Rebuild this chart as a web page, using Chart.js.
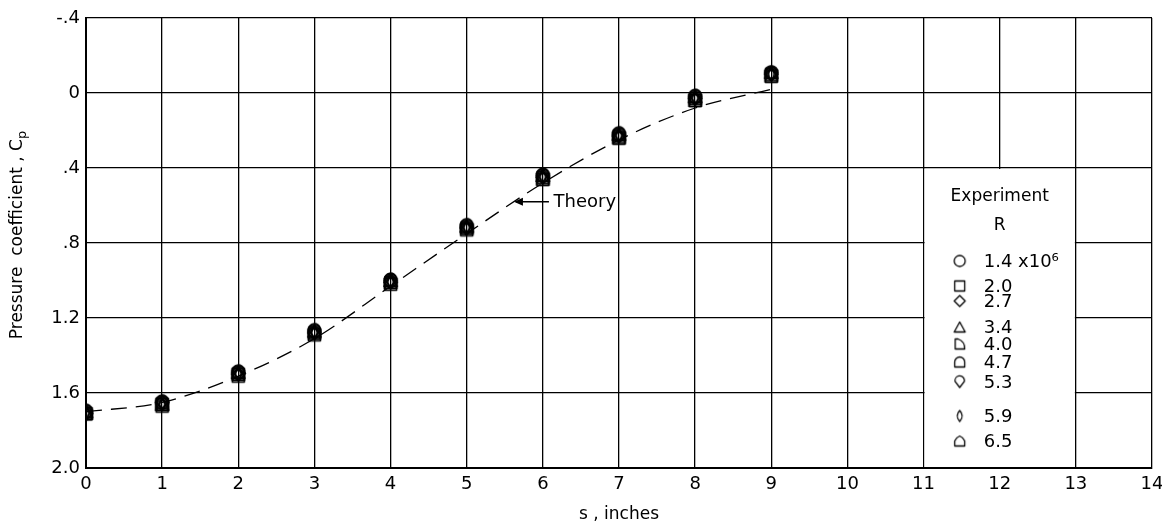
<!DOCTYPE html>
<html><head><meta charset="utf-8">
<script src="https://cdn.jsdelivr.net/npm/chart.js@4.4.1/dist/chart.umd.min.js"></script>
<style>html,body{margin:0;padding:0;background:#fff}#wrap{width:1162px;height:525px}</style>
</head><body><div id="wrap"><canvas id="c" width="1162" height="525"></canvas></div>
<script>
// ---- data ----
const sInches = [0,1,2,3,4,5,6,7,8,9];
const xTickLabels = ['0','1','2','3','4','5','6','7','8','9','10','11','12','13','14'];
const yTickValues = [-0.4,0,0.4,0.8,1.2,1.6,2.0];
const yTickLabels = ['-.4','0','.4','.8','1.2','1.6','2.0'];
const rLabels = ['1.4 x10\u2076','2.0','2.7','3.4','4.0','4.7','5.3','5.9','6.5'];
const cpR14 = [1.70,1.65,1.49,1.27,1.00,0.71,0.44,0.22,0.02,-0.11];
const cpR20 = [1.71,1.66,1.50,1.29,1.02,0.73,0.46,0.24,0.04,-0.09];
const cpR27 = [1.71,1.65,1.50,1.28,1.01,0.72,0.45,0.23,0.03,-0.10];
const cpR34 = [1.70,1.66,1.49,1.27,1.00,0.71,0.44,0.22,0.02,-0.11];
const cpR40 = [1.71,1.66,1.50,1.28,1.01,0.72,0.45,0.23,0.03,-0.10];
const cpR47 = [1.71,1.67,1.51,1.28,1.01,0.72,0.46,0.24,0.04,-0.09];
const cpR53 = [1.70,1.65,1.49,1.27,1.00,0.71,0.44,0.22,0.02,-0.10];
const cpR59 = [1.71,1.66,1.50,1.28,1.01,0.72,0.45,0.23,0.03,-0.10];
const cpR65 = [1.70,1.65,1.49,1.27,1.00,0.71,0.44,0.22,0.02,-0.11];
const theoryS  = [0,1,2,3,4,5,6,7,8,9];
const theoryCp = [1.70,1.65,1.51,1.31,1.03,0.75,0.48,0.25,0.08,-0.02];

const seriesCp = [cpR14,cpR20,cpR27,cpR34,cpR40,cpR47,cpR53,cpR59,cpR65];
const shapes = ['circle','square','diamond','triangle','dquarter','dome','roundDiamond','lens','house'];

const F = "'DejaVu Sans', sans-serif";

function makeMarker(shape, size, lw) {
  const pad = Math.ceil(lw) + 1;
  const c = document.createElement('canvas');
  c.width = size + 2*pad; c.height = size + 2*pad;
  const g = c.getContext('2d');
  g.translate(pad, pad);
  g.strokeStyle = '#000'; g.lineWidth = lw; g.lineJoin = 'round';
  const s = size, h = s/2;
  g.beginPath();
  switch (shape) {
    case 'circle': g.arc(h,h,h,0,Math.PI*2); break;
    case 'square': g.rect(0.5,0.5,s-1,s-1); break;
    case 'diamond': g.moveTo(h,0); g.lineTo(s,h); g.lineTo(h,s); g.lineTo(0,h); g.closePath(); break;
    case 'triangle': g.moveTo(h,0.5); g.lineTo(s,s-0.5); g.lineTo(0,s-0.5); g.closePath(); break;
    case 'dquarter': g.moveTo(1,0.5); g.lineTo(h*0.7,0.5); g.quadraticCurveTo(s,h*0.6,s-0.5,s-0.5); g.lineTo(1,s-0.5); g.closePath(); break;
    case 'dome': g.moveTo(0.5,s-0.5); g.lineTo(0.5,h); g.arc(h,h,h-0.5,Math.PI,0); g.lineTo(s-0.5,s-0.5); g.closePath(); break;
    case 'roundDiamond': g.moveTo(h,s); g.lineTo(0.8,h*0.9); g.arc(h,h*0.75,h-0.8,Math.PI*0.95,Math.PI*0.05); g.lineTo(h,s); g.closePath(); break;
    case 'lens': g.moveTo(h,0); g.quadraticCurveTo(s*0.95,h,h,s); g.quadraticCurveTo(s*0.05,h,h,0); g.closePath(); break;
    case 'house': g.moveTo(0.5,s-0.5); g.lineTo(0.5,h); g.quadraticCurveTo(h*0.4,h*0.3,h,0.5); g.quadraticCurveTo(s-h*0.4,h*0.3,s-0.5,h); g.lineTo(s-0.5,s-0.5); g.closePath(); break;
  }
  g.stroke();
  return c;
}

const plotMarkers = shapes.map(sh => makeMarker(sh, 13, 1.6));
const legendMarkers = shapes.map(sh => makeMarker(sh, 11, 1.3));

const datasets = seriesCp.map((arr, i) => ({
  label: rLabels[i],
  data: sInches.map((x, j) => ({x: x, y: arr[j]})),
  showLine: false,
  pointStyle: plotMarkers[i],
  pointRadius: 7,
  borderColor: '#000',
  backgroundColor: 'rgba(0,0,0,0)'
}));
datasets.push({
  label: 'Theory',
  data: theoryS.map((x, j) => ({x: x, y: theoryCp[j]})),
  showLine: true,
  borderColor: '#000',
  borderWidth: 1.3,
  borderDash: [16, 9],
  pointRadius: 0,
  cubicInterpolationMode: 'monotone',
  fill: false
});

const decor = {
  id: 'decor',
  beforeDatasetsDraw(chart) {
    const {ctx, scales:{x, y}} = chart;
    const l = x.getPixelForValue(11), r = x.getPixelForValue(13);
    const t = y.getPixelForValue(0.4), b = y.getPixelForValue(2.0);
    ctx.save();
    ctx.fillStyle = '#fff';
    ctx.fillRect(l + 1, t + 1, r - l - 2, b - t - 2);
    ctx.restore();
  },
  afterDraw(chart) {
    const {ctx, scales:{x, y}} = chart;
    ctx.save();
    ctx.fillStyle = '#000'; ctx.strokeStyle = '#000';
    ctx.translate(18, (chart.chartArea.top + chart.chartArea.bottom) / 2 - 8);
    ctx.rotate(-Math.PI / 2);
    ctx.font = '17px ' + F;
    ctx.textBaseline = 'middle';
    const main = 'Pressure  coefficient , C';
    const w1 = ctx.measureText(main).width;
    ctx.font = '13px ' + F;
    const w2 = ctx.measureText('p').width;
    const x0 = -(w1 + w2) / 2;
    ctx.font = '17px ' + F;
    ctx.textAlign = 'left';
    ctx.fillText(main, x0, 0);
    ctx.font = '13px ' + F;
    ctx.fillText('p', x0 + w1, 5);
    ctx.restore();

    // Theory annotation
    ctx.save();
    ctx.strokeStyle = '#000'; ctx.fillStyle = '#000'; ctx.lineWidth = 1.3;
    const tipX = x.getPixelForValue(5.62), tailX = x.getPixelForValue(6.08), ay = y.getPixelForValue(0.58);
    ctx.beginPath(); ctx.moveTo(tailX, ay); ctx.lineTo(tipX + 2, ay); ctx.stroke();
    ctx.beginPath(); ctx.moveTo(tipX, ay); ctx.lineTo(tipX + 9, ay - 4); ctx.lineTo(tipX + 9, ay + 4); ctx.closePath(); ctx.fill();
    ctx.font = '18px ' + F; ctx.textBaseline = 'middle'; ctx.textAlign = 'left';
    ctx.fillText('Theory', x.getPixelForValue(6.14), ay + 1);
    ctx.restore();

    // legend
    ctx.save();
    ctx.fillStyle = '#000';
    const cx = x.getPixelForValue(12);
    const top = y.getPixelForValue(0.4);
    ctx.textBaseline = 'middle';
    ctx.textAlign = 'center';
    ctx.font = '17px ' + F;
    ctx.fillText('Experiment', cx, top + 29);
    ctx.fillText('R', cx, top + 58);
    const rowOff = [93, 118, 133, 159, 176, 194, 214, 248, 273];
    ctx.font = '18px ' + F;
    ctx.textAlign = 'left';
    rowOff.forEach((off, i) => {
      const m = legendMarkers[i];
      ctx.drawImage(m, cx - 40 - m.width / 2, top + off - m.height / 2);
      ctx.fillText(rLabels[i], cx - 16, top + off + 1);
    });
    ctx.restore();
  }
};

new Chart(document.getElementById('c'), {
  type: 'scatter',
  data: { datasets },
  options: {
    responsive: false,
    animation: false,
    layout: { padding: { left: 0, right: 0, top: 18, bottom: 0 } },
    plugins: { legend: { display: false }, tooltip: { enabled: false } },
    scales: {
      x: {
        type: 'linear', min: 0, max: 14,
        ticks: { stepSize: 1, color: '#000', font: { family: F, size: 18 }, padding: 6, maxRotation: 0,
                 callback: (v, i) => xTickLabels[i] },
        grid: { color: '#000', lineWidth: 1.3, drawTicks: false },
        border: { color: '#000', width: 2 },
        title: { display: true, text: 's , inches', color: '#000', font: { family: F, size: 17 }, padding: { top: 3, bottom: 0 } },
        afterFit: (s) => { s.height = 57; s.paddingRight = 10; s.paddingLeft = 0; }
      },
      y: {
        type: 'linear', reverse: true, min: -0.4, max: 2.0,
        ticks: { stepSize: 0.4, color: '#000', font: { family: F, size: 18 }, padding: 6,
                 callback: (v) => { const k = yTickValues.findIndex(t => Math.abs(t - v) < 1e-6); return k >= 0 ? yTickLabels[k] : ''; } },
        grid: { color: '#000', lineWidth: 1.3, drawTicks: false },
        border: { color: '#000', width: 2 },
        afterFit: (s) => { s.width = 86; }
      }
    }
  },
  plugins: [decor]
});
</script>
</body></html>
